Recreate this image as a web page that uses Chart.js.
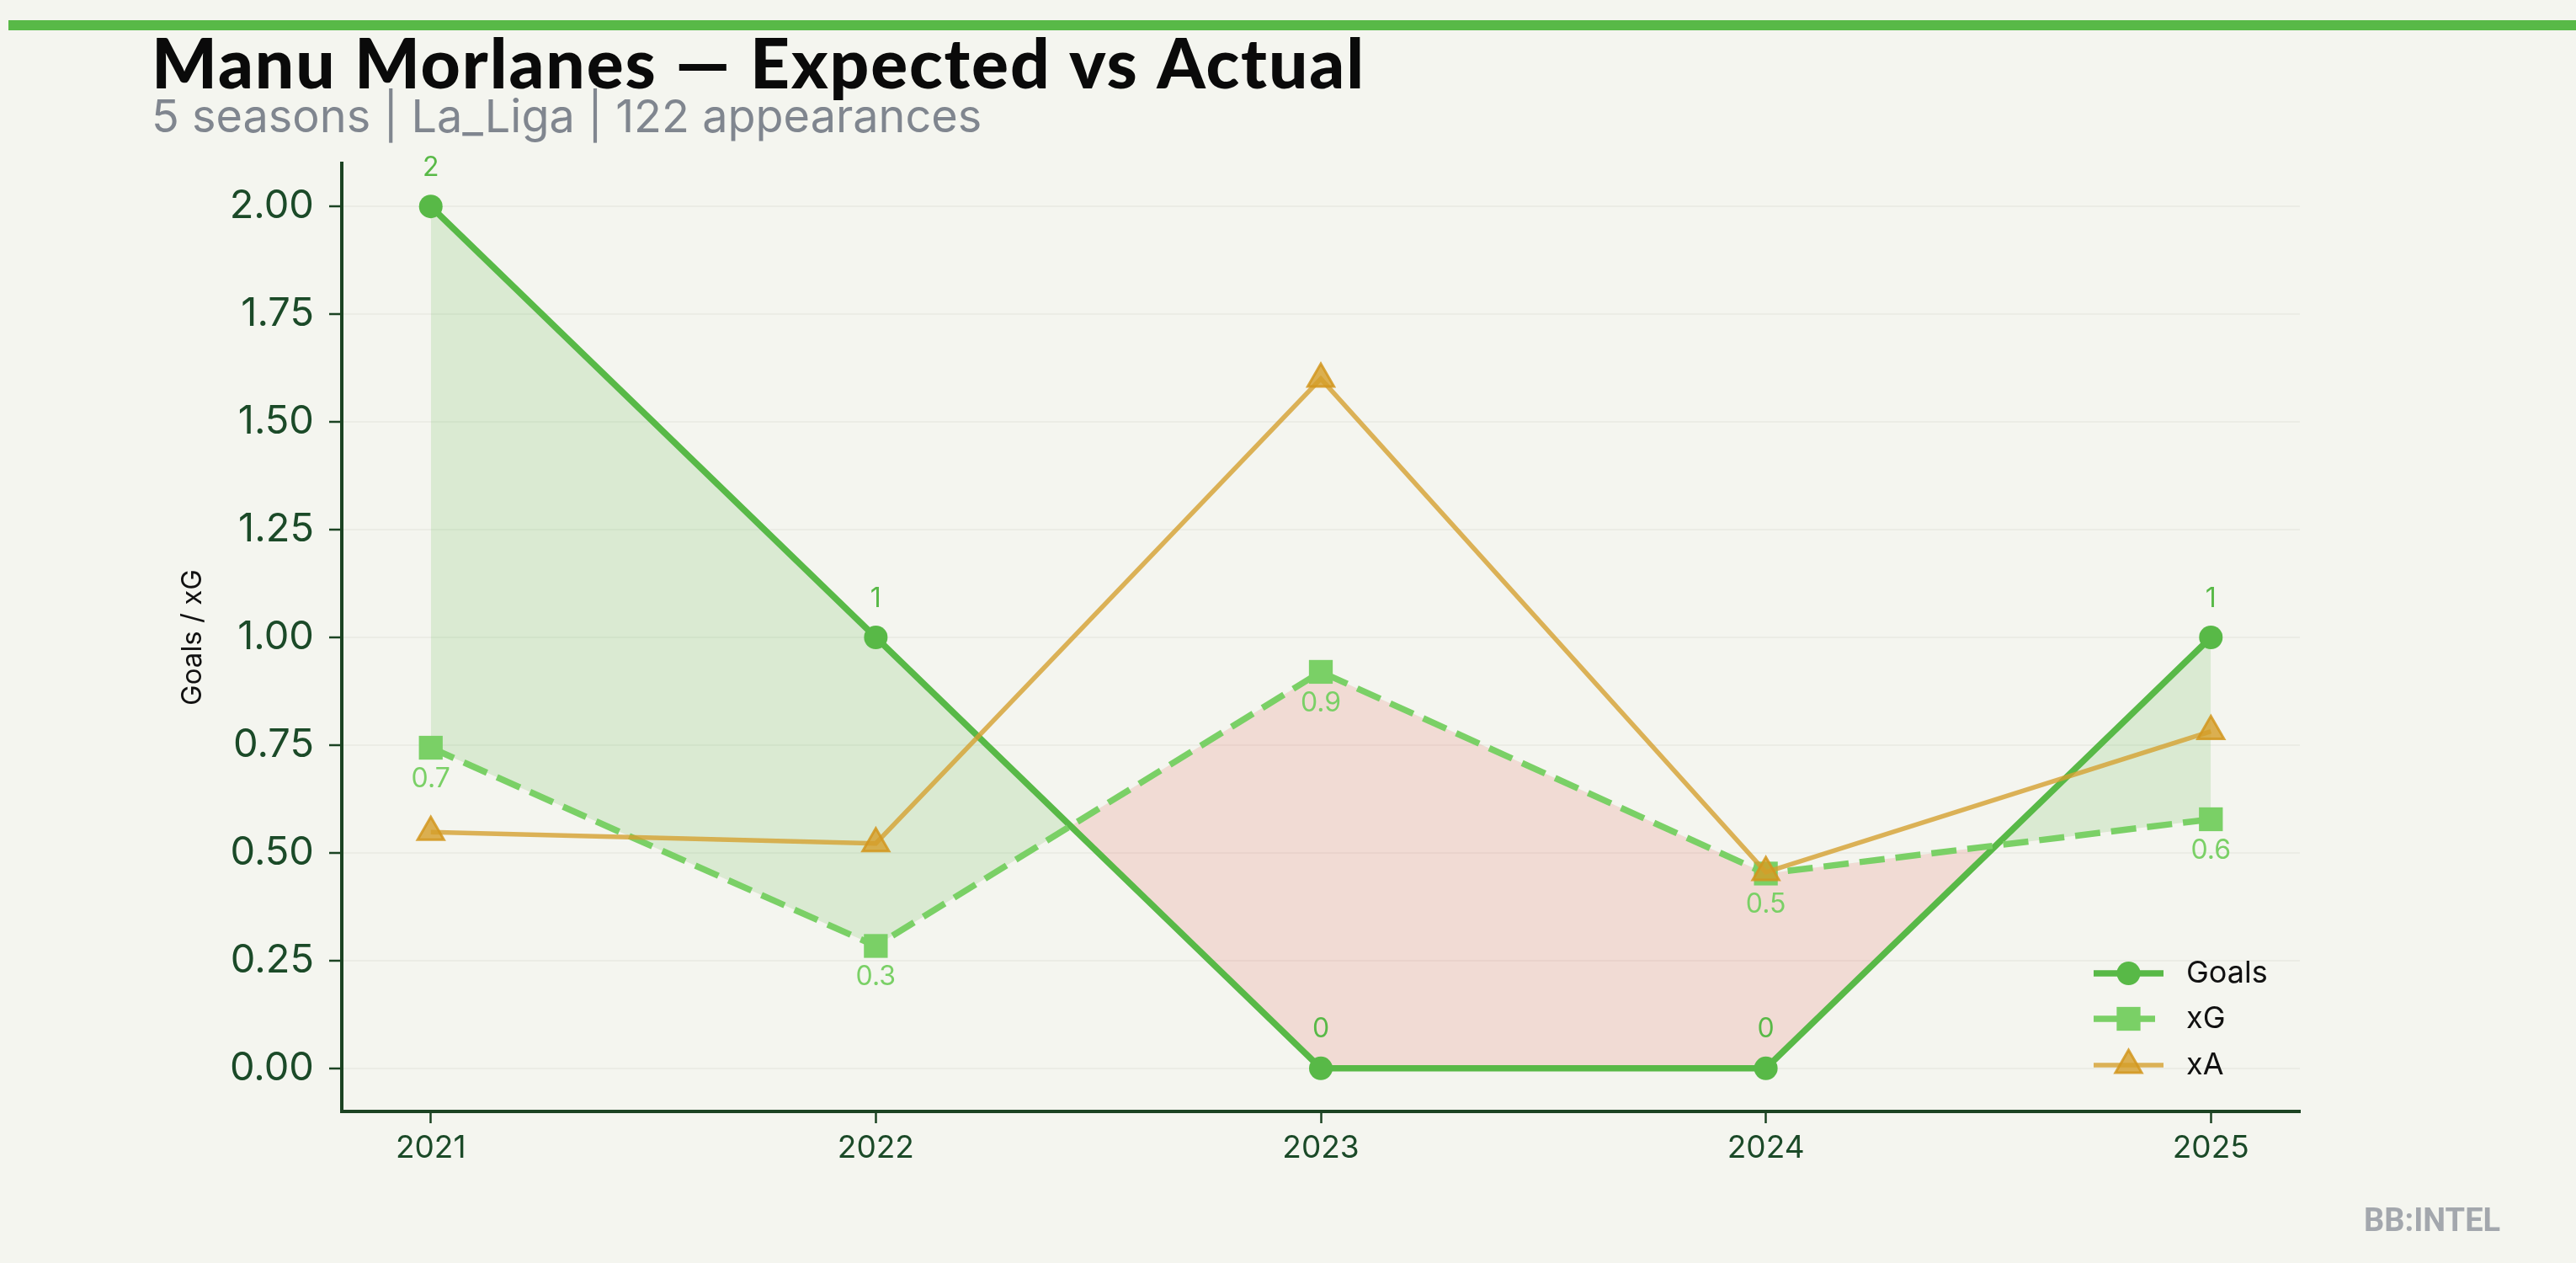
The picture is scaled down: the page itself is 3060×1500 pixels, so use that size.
<!DOCTYPE html>
<html>
<head>
<meta charset="utf-8">
<script src="https://cdn.jsdelivr.net/npm/chart.js@4.4.1/dist/chart.umd.min.js"></script>
<style>
  html, body { margin: 0; padding: 0; background: #f4f5ef; }
  canvas { display: block; }
</style>
</head>
<body>
<canvas id="xgChart" width="3060" height="1500"></canvas>
<script>
// values
const seasons = [2021, 2022, 2023, 2024, 2025];
const goals = [2, 1, 0, 0, 1];
const xg = [0.744, 0.284, 0.92, 0.452, 0.578];
const xa = [0.548, 0.522, 1.6, 0.455, 0.782];
const yTicks = [0, 0.25, 0.5, 0.75, 1, 1.25, 1.5, 1.75, 2];

const GREEN = "#58b947";
const XG_GREEN = "#7ad066";
const GOLD_LINE = "rgba(212,160,48,0.8)";
const AXIS = "#1b4322";
const TICK_TEXT = "#1b4a28";

function toPoints(vals) {
    return seasons.map((s, i) => ({ x: s, y: vals[i] }));
}

const header = {
    id: "header",
    beforeDraw(chart) {
        const ctx = chart.ctx;
        ctx.save();
        ctx.fillStyle = GREEN;
        ctx.fillRect(10, 24, 3050, 12);

        ctx.textBaseline = "alphabetic";
        ctx.textAlign = "left";
        ctx.fillStyle = "#0a0a0a";
        ctx.font = "900 82px Lato";
        ctx.letterSpacing = "1.9px";
        ctx.fillText("Manu Morlanes \u2014 Expected vs Actual", 180, 105);
        ctx.letterSpacing = "0px";

        ctx.fillStyle = "#80868f";
        ctx.font = "54px Inter";
        ctx.fillText("5 seasons | La_Liga | 122 appearances", 180, 157);

        ctx.fillStyle = "#a3a7ad";
        ctx.font = "bold 38px Roboto";
        ctx.fillText("BB:INTEL", 2808, 1462);
        ctx.restore();
    }
};

const pointLabels = {
    id: "pointLabels",
    afterDatasetsDraw(chart) {
        const ctx = chart.ctx;
        ctx.save();
        ctx.font = "32px Inter";
        ctx.textAlign = "center";
        ctx.textBaseline = "middle";
        chart.getDatasetMeta(0).data.forEach((pt, i) => {
            ctx.fillStyle = GREEN;
            ctx.fillText(String(goals[i]), pt.x, pt.y - 46);
        });
        chart.getDatasetMeta(1).data.forEach((pt, i) => {
            ctx.fillStyle = XG_GREEN;
            ctx.fillText(xg[i].toFixed(1), pt.x, pt.y + 37);
        });
        ctx.restore();
    }
};

function marker(ctx, style, x, y, r) {
    ctx.beginPath();
    if (style === "circle") {
        ctx.arc(x, y, r, 0, Math.PI * 2);
    } else if (style === "rect") {
        const h = r * Math.SQRT1_2;
        ctx.rect(x - h, y - h, 2 * h, 2 * h);
    } else {
        ctx.moveTo(x, y - r);
        ctx.lineTo(x + 0.866 * r, y + 0.5 * r);
        ctx.lineTo(x - 0.866 * r, y + 0.5 * r);
        ctx.closePath();
    }
}

const legendBox = {
    id: "legendBox",
    afterDraw(chart) {
        const ctx = chart.ctx;
        const area = chart.chartArea;
        const x0 = area.right - 245, x1 = area.right - 162, tx = area.right - 135;
        const rows = [1156, 1210, 1265];
        ctx.save();
        chart.data.datasets.forEach((ds, i) => {
            const y = rows[i];
            const cx = (x0 + x1) / 2;
            ctx.setLineDash(ds.borderDash || []);
            ctx.lineWidth = ds.borderWidth;
            ctx.strokeStyle = ds.borderColor;
            ctx.beginPath();
            ctx.moveTo(x0, y);
            ctx.lineTo(x1, y);
            ctx.stroke();
            ctx.setLineDash([]);
            marker(ctx, ds.pointStyle, cx, y, ds.pointRadius);
            ctx.fillStyle = ds.pointBackgroundColor;
            ctx.fill();
            if (ds.pointBorderWidth) {
                ctx.lineWidth = ds.pointBorderWidth;
                ctx.strokeStyle = ds.pointBorderColor;
                ctx.stroke();
            }
            ctx.fillStyle = "#111111";
            ctx.font = "36px Inter";
            ctx.textBaseline = "middle";
            ctx.textAlign = "left";
            ctx.fillText(ds.label, tx, y);
        });
        ctx.restore();
    }
};

new Chart("xgChart", {
    type: "line",
    data: {
        datasets: [{
            label: "Goals",
            data: toPoints(goals),
            borderColor: GREEN,
            borderWidth: 7.5,
            pointStyle: "circle",
            pointRadius: 14,
            pointBackgroundColor: GREEN,
            pointBorderWidth: 0,
            pointBorderColor: GREEN,
            order: 3,
            fill: {
                target: 1,
                above: "rgba(88,185,71,0.17)",
                below: "rgba(231,76,60,0.15)"
            }
        }, {
            label: "xG",
            data: toPoints(xg),
            borderColor: XG_GREEN,
            borderWidth: 7.5,
            borderDash: [30, 13],
            pointStyle: "rect",
            pointRadius: 20,
            pointBackgroundColor: XG_GREEN,
            pointBorderWidth: 0,
            pointBorderColor: XG_GREEN,
            order: 2,
            fill: false
        }, {
            label: "xA",
            data: toPoints(xa),
            borderColor: GOLD_LINE,
            borderWidth: 5.5,
            pointStyle: "triangle",
            pointRadius: 18,
            pointBackgroundColor: "rgba(212,158,40,0.8)",
            pointBorderWidth: 3,
            pointBorderColor: "rgba(210,150,30,0.85)",
            order: 1,
            fill: false
        }]
    },
    options: {
        responsive: false,
        devicePixelRatio: 1,
        animation: false,
        events: [],
        layout: {
            padding: { top: 194, left: 180, right: 328, bottom: 60 }
        },
        plugins: {
            legend: { display: false },
            tooltip: { enabled: false }
        },
        scales: {
            x: {
                type: "linear",
                min: 2020.8,
                max: 2025.2,
                afterBuildTicks(scale) {
                    scale.ticks = seasons.map(v => ({ value: v }));
                },
                afterFit(scale) {
                    scale.height = 120;
                },
                ticks: {
                    color: TICK_TEXT,
                    font: { family: "Inter", size: 37 },
                    padding: 8,
                    callback: v => String(v)
                },
                grid: {
                    drawOnChartArea: false,
                    tickLength: 14,
                    tickColor: AXIS,
                    tickWidth: 2.5
                },
                border: { display: true, color: AXIS, width: 4 }
            },
            y: {
                min: -0.1,
                max: 2.1,
                afterBuildTicks(scale) {
                    scale.ticks = yTicks.map(v => ({ value: v }));
                },
                afterFit(scale) {
                    scale.width = 226;
                },
                ticks: {
                    color: TICK_TEXT,
                    font: { family: "Inter", size: 47 },
                    padding: 18,
                    callback: v => Number(v).toFixed(2)
                },
                grid: {
                    color: "#ebece5",
                    lineWidth: 2,
                    tickLength: 15,
                    tickColor: AXIS,
                    tickWidth: 2.5
                },
                border: { display: true, color: AXIS, width: 4 },
                title: {
                    display: true,
                    text: "Goals / xG",
                    color: "#111111",
                    font: { family: "Inter", size: 33 },
                    padding: { top: 29, bottom: 0 }
                }
            }
        }
    },
    plugins: [header, pointLabels, legendBox]
});
</script>
</body>
</html>
